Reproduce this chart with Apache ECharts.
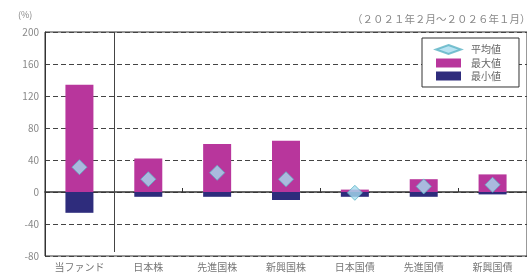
<!DOCTYPE html>
<html><head><meta charset="utf-8">
<script src="https://cdn.jsdelivr.net/npm/echarts@6/dist/echarts.min.js"></script>
<style>html,body{margin:0;padding:0;background:#fff}#c{width:527px;height:278px}</style>
</head><body><div id="c"></div>
<script>
var categories = ['当ファンド','日本株','先進国株','新興国株','日本国債','先進国債','新興国債'];
var avgValues = [31, 16, 24, 16, -1, 7, 9];
var maxValues = [134, 42, 60, 64, 3, 16, 22];
var minValues = [-26, -6, -6, -10, -6, -6, -3];
var yTicks = {min: -80, max: 200, interval: 40};
var periodText = '（２０２１年２月～２０２６年１月）';
var unitText = '(%)';

var font = '"Noto Sans CJK JP", "Noto Sans", sans-serif';
var chart = echarts.init(document.getElementById('c'));
chart.setOption({
  animation: false,
  grid: {left: 45, right: -1, top: 32, bottom: 22, show: true, borderColor: '#333', borderWidth: 1},
  legend: {
    orient: 'vertical', left: 422, top: 38, padding: [6, 18, 6, 13], z: 20,
    backgroundColor: '#fff', borderColor: '#333', borderWidth: 1, itemGap: 3, itemWidth: 25, itemHeight: 9,
    textStyle: {fontSize: 10, color: '#666', fontFamily: font, padding: [0, 0, 0, 5]},
    data: [{name: '平均値', icon: 'diamond'}, {name: '最大値', icon: 'rect'}, {name: '最小値', icon: 'rect'}]
  },
  graphic: [
    {type: 'text', left: 18, top: 10, style: {text: unitText, fontSize: 9, fill: '#888', fontFamily: font}},
    {type: 'text', left: 352, top: 14, style: {text: periodText, fontSize: 10.5, fill: '#888', fontFamily: font}}
  ],
  xAxis: [
    {type: 'category', data: categories, position: 'bottom',
     axisLine: {onZero: false, show: false}, axisTick: {show: false},
     axisLabel: {fontSize: 10, color: '#777', margin: 6, fontFamily: font}},
    {type: 'category', data: categories, position: 'bottom',
     axisLine: {onZero: true, lineStyle: {color: '#333', width: 1.5}},
     axisTick: {show: true, inside: true, length: 4, lineStyle: {color: '#333'}},
     axisLabel: {show: false}}
  ],
  yAxis: {
    type: 'value', min: yTicks.min, max: yTicks.max, interval: yTicks.interval,
    axisLine: {show: true, lineStyle: {color: '#333'}}, axisTick: {show: false},
    axisLabel: {fontSize: 10, color: '#888', margin: 6, fontFamily: font},
    splitLine: {show: true, lineStyle: {color: '#444', type: [5, 3], width: 1}}
  },
  series: [
    {name: '最大値', type: 'bar', data: maxValues, barWidth: 28, barGap: '-100%', itemStyle: {color: '#b8369c'}, z: 2},
    {name: '最小値', type: 'bar', data: minValues, barWidth: 28, itemStyle: {color: '#2e2c7c'}, z: 2},
    {name: '平均値', type: 'scatter', data: avgValues, symbol: 'diamond', symbolSize: 15,
     itemStyle: {color: '#a6dcef', borderColor: '#5bb3c4', borderWidth: 1}, z: 5}
  ]
});
var p0 = chart.convertToPixel({xAxisIndex: 0}, 0);
var p1 = chart.convertToPixel({xAxisIndex: 0}, 1);
var sx = Math.round((p0 + p1) / 2) + 0.5;
var yTop = chart.convertToPixel({yAxisIndex: 0}, yTicks.max);
var yBot = chart.convertToPixel({yAxisIndex: 0}, yTicks.min);
chart.setOption({graphic: [{}, {}, {type: 'line', z: 10, shape: {x1: sx, y1: yTop, x2: sx, y2: yBot - 4}, style: {stroke: '#444', lineWidth: 1}}]});
</script></body></html>
